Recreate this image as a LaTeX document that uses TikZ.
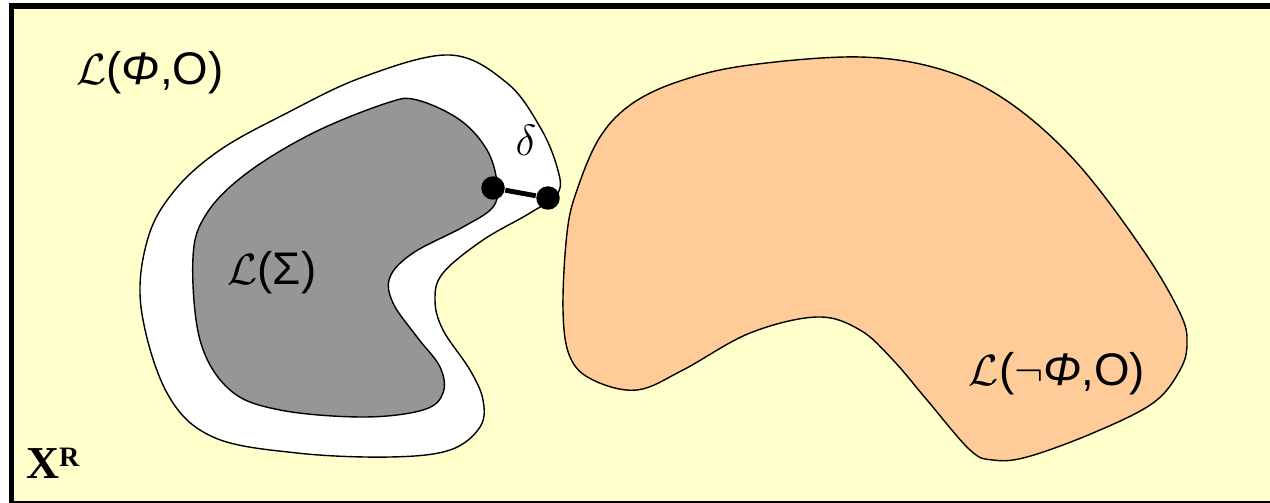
\documentclass[tikz,border=0pt]{standalone}
\usepackage{fontspec}
\setmainfont{Liberation Sans}
\newfontfamily\timesfont{Liberation Serif}
\definecolor{paper}{HTML}{FFFFCC}
\definecolor{peach}{HTML}{FFCC99}
\definecolor{sigmagray}{HTML}{969696}
\tikzset{
  blob/.style={draw=black,line width=0.8pt},
  dot/.style={circle,fill=black,inner sep=0pt,minimum size=0.47cm},
  lbl/.style={inner sep=0pt,font=\fontsize{26}{30}\selectfont}
}

\begin{document}
\begin{tikzpicture}[x={(0.02cm,0)},y={(0,-0.02cm)},line width=0.8pt]
\useasboundingbox (0,0) rectangle (1270,503);
% ---------- frame ----------
\fill[paper] (9,3) rectangle (1270,503);
\fill[black] (9,3) rectangle (1270,9);
\fill[black] (9,3) rectangle (14,503);
\fill[black] (9,501) rectangle (1270,503);
% ---------- L(Phi,O) ----------
\filldraw[blob,fill=white] plot[smooth cycle,tension=0.6] coordinates {
  (450,55) (507,83) (540,127) (557,167) (558,193) (530,213) (483,240)
  (443,273) (435,300) (443,330) (470,370) (483,400) (480,427) (450,450)
  (390,457) (297,453) (213,437) (167,393) (141,307) (148,238) (175,190)
  (220,150) (285,114) (363,77)};
% ---------- L(Sigma) ----------
\filldraw[blob,fill=sigmagray] plot[smooth cycle,tension=0.6] coordinates {
  (417,100) (460,120) (487,150) (497,183) (493,207) (463,227) (413,253)
  (390,277) (393,303) (417,337) (440,367) (443,393) (423,410) (363,417)
  (280,410) (230,390) (200,340) (193,257) (207,213) (247,173) (313,133)
  (387,103)};
% ---------- L(not Phi,O) ----------
\filldraw[blob,fill=peach] plot[smooth cycle,tension=0.6] coordinates {
  (860,57) (943,70) (1010,103) (1077,163) (1143,250) (1180,313) (1187,343)
  (1180,370) (1153,403) (1093,433) (1027,457) (993,460) (970,450) (927,400)
  (893,360) (860,330) (817,317) (750,333) (683,370) (637,390) (593,380)
  (570,357) (563,310) (567,233) (577,190) (600,137) (633,103) (683,80)
  (750,65)};
% ---------- delta ----------
\node[dot] (sigpt) at (493,188) {};
\node[dot] (phipt) at (548,198) {};
\draw[line width=2.8pt] (sigpt) -- (phipt);
\node[lbl,font=\fontsize{30}{34}\selectfont] (delta) at (526,140) {$\delta$};
% ---------- labels ----------
\node[lbl] (lphi) at (150,73) {$\mathcal{L}$(\textit{Φ},O)};
\node[lbl] (lsigma) at (272,273) {$\mathcal{L}$(Σ)};
\node[lbl] (lnotphi) at (1057,374) {$\mathcal{L}$($\neg$\textit{Φ},O)};
\node[inner sep=0pt] (xr) at (53,463) {\timesfont\fontsize{26}{30}\selectfont\textbf{X}\raisebox{7pt}{\fontsize{16}{18}\selectfont\textbf{R}}};
\end{tikzpicture}
\end{document}
